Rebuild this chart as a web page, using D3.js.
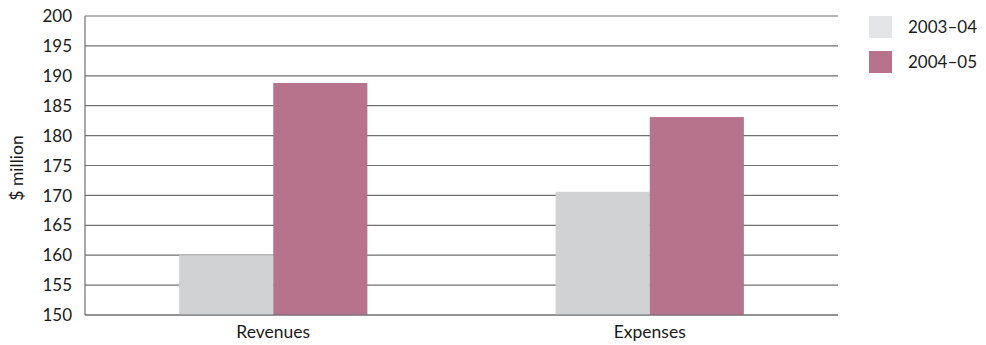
<!DOCTYPE html>
<html><head><meta charset="utf-8">
<script src="https://cdn.jsdelivr.net/npm/d3@7"></script>
<style>body{margin:0;background:#fff;}text{font-family:Lato,"Open Sans",sans-serif;fill:#1a1a1a;}</style>
</head><body>
<svg id="c" width="986" height="345"></svg>
<script>
const categories = ["Revenues", "Expenses"];
const seriesNames = ["2003–04", "2004–05"];
const values2003 = [160.0, 170.6];
const values2004 = [188.8, 183.1];
const yTicks = [150,155,160,165,170,175,180,185,190,195,200];
const barColors = ["#d1d2d4", "#b8738c"];
const legendColors = ["#e4e5e6", "#b8738c"];

const svg = d3.select("#c");
const L = 85, R = 838, T = 16, B = 315;
const x = d3.scaleBand().domain(categories).range([L, R]).paddingInner(0.5).paddingOuter(0.25);
const x1 = d3.scaleBand().domain(seriesNames).range([0, x.bandwidth()]);
const y = d3.scaleLinear().domain([150, 200]).range([B, T]);

// gridlines
svg.append("g").selectAll("line").data(yTicks).join("line")
  .attr("x1", L).attr("x2", R).attr("y1", d => y(d)).attr("y2", d => y(d))
  .attr("stroke", "#6f6f6f").attr("stroke-width", 1.2);
// tick labels
svg.append("g").selectAll("text").data(yTicks).join("text")
  .attr("x", 72).attr("y", d => y(d)).attr("dy", "0.36em").attr("text-anchor", "end")
  .attr("font-size", 17).text(d => d);

// bars
const data = categories.map((c, i) => ({c, vals: [values2003[i], values2004[i]]}));
const g = svg.append("g").selectAll("g").data(data).join("g")
  .attr("transform", d => `translate(${x(d.c)},0)`);
g.selectAll("rect").data(d => d.vals.map((v, j) => ({v, s: seriesNames[j], j}))).join("rect")
  .attr("x", d => x1(d.s)).attr("width", x1.bandwidth())
  .attr("y", d => y(d.v)).attr("height", d => y(150) - y(d.v))
  .attr("fill", d => barColors[d.j]);

// axis lines
svg.append("line").attr("x1", L).attr("x2", L).attr("y1", T).attr("y2", B).attr("stroke", "#6f6f6f").attr("stroke-width", 1.2);
svg.append("line").attr("x1", L).attr("x2", R).attr("y1", B).attr("y2", B).attr("stroke", "#6f6f6f").attr("stroke-width", 1.2);

// category labels
svg.append("g").selectAll("text").data(categories).join("text")
  .attr("x", d => x(d) + x.bandwidth() / 2).attr("y", 338).attr("text-anchor", "middle")
  .attr("font-size", 17.5).text(d => d);

// y title
svg.append("text").attr("transform", "translate(23,168) rotate(-90)").attr("text-anchor", "middle")
  .attr("font-size", 17.5).text("$ million");

// legend
const lg = svg.append("g").selectAll("g").data(seriesNames).join("g")
  .attr("transform", (d, i) => `translate(869,${16 + i * 35})`);
lg.append("rect").attr("width", 23).attr("height", 22).attr("fill", (d, i) => legendColors[i]);
lg.append("text").attr("x", 39).attr("y", 11).attr("dy", "0.36em").attr("font-size", 17).text(d => d);
</script>
</body></html>
